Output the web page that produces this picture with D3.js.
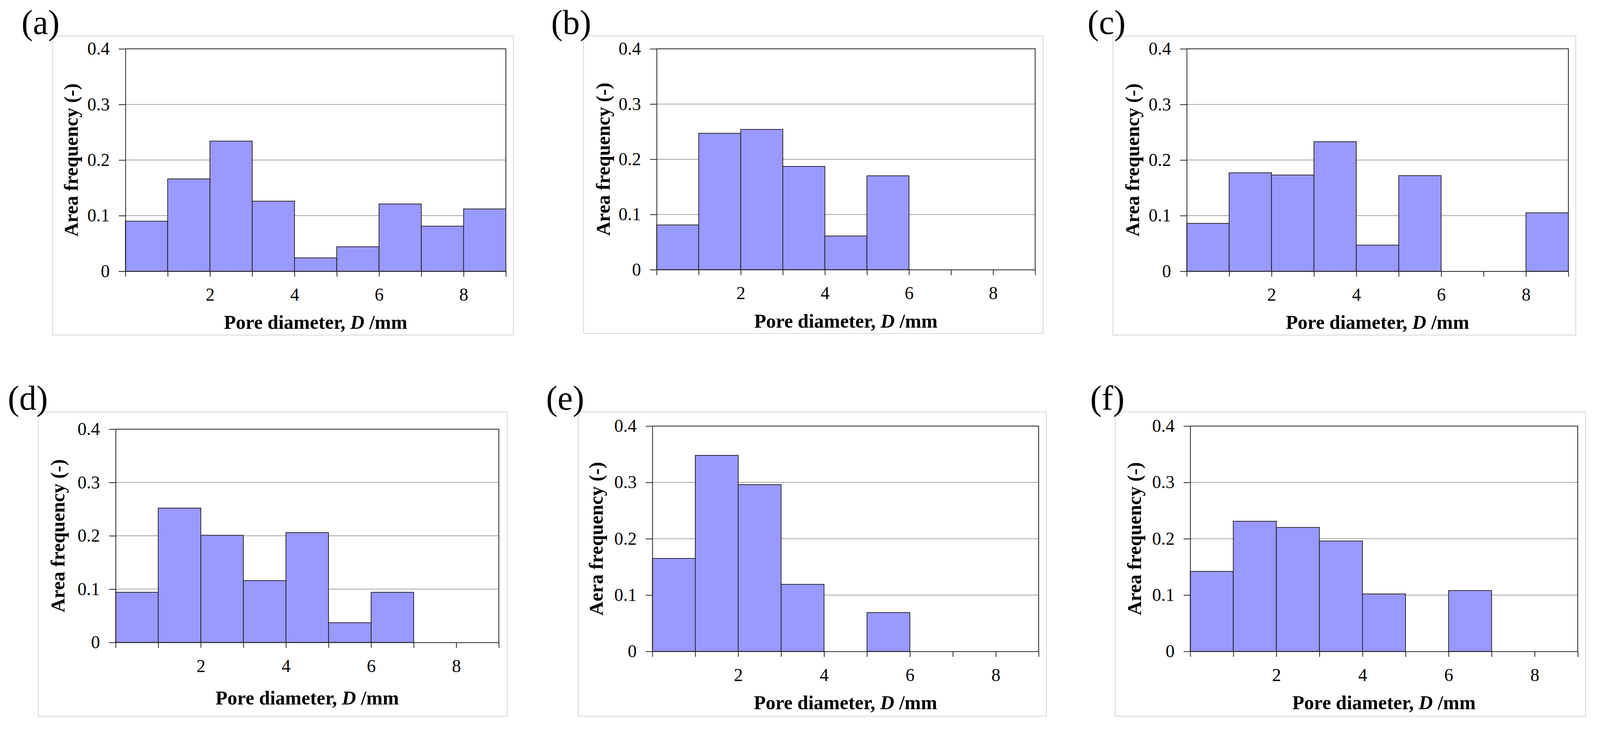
<!DOCTYPE html>
<html>
<head>
<meta charset="utf-8">
<script src="https://cdn.jsdelivr.net/npm/d3@7"></script>
<style>
  body { margin: 0; background: #fff; }
  text { font-family: "Liberation Serif", "Times New Roman", serif; fill: #000; }
</style>
</head>
<body>
<svg id="chart" width="4102" height="1877"></svg>
<script>
// bin edges of the histograms (mm)
var binStarts = [0, 1, 2, 3, 4, 5, 6, 7, 8];
var binWidth = 1;

// area frequency per bin
var freqA = [0.090, 0.166, 0.234, 0.126, 0.024, 0.044, 0.121, 0.081, 0.112];
var freqB = [0.081, 0.247, 0.254, 0.187, 0.061, 0.170, 0, 0, 0];
var freqC = [0.086, 0.177, 0.173, 0.233, 0.047, 0.172, 0, 0, 0.105];
var freqD = [0.094, 0.252, 0.201, 0.116, 0.206, 0.037, 0.094, 0, 0];
var freqE = [0.165, 0.348, 0.296, 0.119, 0, 0.069, 0, 0, 0];
var freqF = [0.142, 0.231, 0.220, 0.196, 0.102, 0, 0.108, 0, 0];

var panelLabels = ["(a)", "(b)", "(c)", "(d)", "(e)", "(f)"];
var yTitles = ["Area frequency (-)", "Area frequency (-)", "Area frequency (-)",
               "Area frequency (-)", "Aera frequency (-)", "Area frequency (-)"];
var yTicks = [0, 0.1, 0.2, 0.3, 0.4];
var xTicks = [0, 1, 2, 3, 4, 5, 6, 7, 8, 9];
var xTickLabels = [2, 4, 6, 8];

var series = [freqA, freqB, freqC, freqD, freqE, freqF];

// page layout of every panel: outer box, plot box, label position
var layout = [
  {box: [134, 92, 1314, 858],   plot: [321, 125, 1295, 694.5],  lab: [55, 87],    yt: -122, xt: 147},
  {box: [1494, 92, 2670, 854],  plot: [1681, 125, 2650, 690.5], lab: [1411, 87],  yt: -120, xt: 148},
  {box: [2849, 92, 4034, 858],  plot: [3038, 125, 4015, 694.5], lab: [2784, 87],  yt: -122, xt: 147},
  {box: [98, 1055, 1299, 1834], plot: [296, 1099, 1277, 1645],  lab: [20, 1049],  yt: -131, xt: 159},
  {box: [1480, 1055, 2679, 1834], plot: [1670, 1091, 2659, 1668], lab: [1398, 1049], yt: -127, xt: 148},
  {box: [2855, 1055, 4059, 1834], plot: [3047, 1091, 4039, 1668], lab: [2791, 1049], yt: -126, xt: 148}
];

var svg = d3.select("#chart");

series.forEach(function(vals, i) {
  var L = layout[i];
  var px0 = L.plot[0], py0 = L.plot[1], px1 = L.plot[2], py1 = L.plot[3];
  var w = px1 - px0, h = py1 - py0;

  // outer chart border
  svg.append("rect")
    .attr("x", L.box[0]).attr("y", L.box[1])
    .attr("width", L.box[2] - L.box[0]).attr("height", L.box[3] - L.box[1])
    .attr("fill", "#fff").attr("stroke", "#c8c8c8").attr("stroke-width", 1.5);

  svg.append("text")
    .attr("x", L.lab[0]).attr("y", L.lab[1])
    .style("font-size", "88px")
    .text(panelLabels[i]);

  var g = svg.append("g").attr("transform", "translate(" + px0 + "," + py0 + ")");

  var x = d3.scaleLinear().domain([0, 9]).range([0, w]);
  var y = d3.scaleLinear().domain([0, 0.4]).range([h, 0]);

  // gridlines
  g.selectAll(".grid")
    .data(yTicks.filter(function(t) { return t > 0 && t < 0.4; }))
    .enter().append("line")
    .attr("x1", 0).attr("x2", w)
    .attr("y1", function(d) { return y(d); })
    .attr("y2", function(d) { return y(d); })
    .attr("stroke", "#888").attr("stroke-width", 1.5);

  // top and right plot border
  g.append("path")
    .attr("d", "M0," + y(0.4) + "H" + x(9) + "V" + y(0))
    .attr("fill", "none").attr("stroke", "#222").attr("stroke-width", 2);

  // bars
  g.selectAll(".bar")
    .data(vals)
    .enter().append("rect")
    .attr("x", function(d, j) { return x(binStarts[j]); })
    .attr("width", function(d, j) { return x(binStarts[j] + binWidth) - x(binStarts[j]); })
    .attr("y", function(d) { return y(d); })
    .attr("height", function(d) { return y(0) - y(d); })
    .attr("fill", "#9999ff")
    .attr("stroke", "#1a1a1a").attr("stroke-width", 1.8);

  var yAxis = d3.axisLeft(y)
    .tickValues(yTicks)
    .tickSize(17).tickSizeOuter(0).tickPadding(23)
    .tickFormat(function(d) { return d === 0 ? "0" : d.toFixed(1); });

  var xAxis = d3.axisBottom(x)
    .tickValues(xTicks)
    .tickSize(14).tickSizeOuter(0).tickPadding(29)
    .tickFormat(function(d) { return xTickLabels.indexOf(d) >= 0 ? d : ""; });

  var ya = g.append("g").call(yAxis);
  var xa = g.append("g").attr("transform", "translate(0," + h + ")").call(xAxis);

  [ya, xa].forEach(function(a) {
    a.select(".domain").attr("stroke", "#222").attr("stroke-width", 2);
    a.selectAll(".tick line").attr("stroke", "#222").attr("stroke-width", 2);
    a.selectAll("text")
      .style("font-family", "'Liberation Serif', 'Times New Roman', serif")
      .style("font-size", "46px").attr("fill", "#000");
  });

  // y title
  g.append("text")
    .attr("transform", "translate(" + L.yt + "," + (h / 2) + ") rotate(-90)")
    .attr("text-anchor", "middle")
    .style("font-size", "50px").style("font-weight", "bold")
    .text(yTitles[i]);

  // x title
  var xt = g.append("text")
    .attr("x", w / 2).attr("y", h + L.xt)
    .attr("text-anchor", "middle")
    .style("font-size", "50px").style("font-weight", "bold");
  xt.append("tspan").text("Pore diameter, ");
  xt.append("tspan").style("font-style", "italic").text("D");
  xt.append("tspan").text(" /mm");
});
</script>
</body>
</html>
